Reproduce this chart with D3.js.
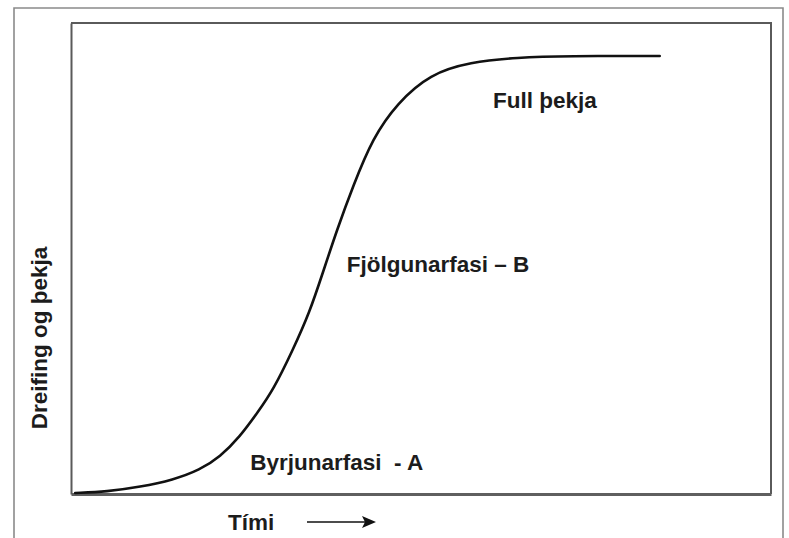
<!DOCTYPE html>
<html>
<head>
<meta charset="utf-8">
<script src="https://cdn.jsdelivr.net/npm/d3@7"></script>
<style>
  body { margin: 0; background: #fff; }
  svg text { font-family: "Liberation Sans", Arial, sans-serif; font-weight: bold; fill: #1c1c1c; }
</style>
</head>
<body>
<div id="chart"></div>
<script>
// svg size and plot box
let svgWidth = 789;
let svgHeight = 538;

let margin = { top: 23, right: 18, bottom: 44, left: 71 };
let width = svgWidth - margin.left - margin.right;
let height = svgHeight - margin.top - margin.bottom;

// growth curve (time 0-100, coverage 0-100)
let timeValues = [0.6, 5.1, 9.9, 14.6, 18.4, 21.3, 24.1, 26.7, 28.9, 31.7, 34.1, 36.0,
  38.0, 40.3, 43.1, 46.6, 51.3, 57.0, 63.7, 70.9, 84.1];
let coverValues = [0.2, 0.5, 1.5, 3.0, 5.1, 7.9, 12.1, 17.4, 22.1, 30.6, 38.6, 47.1,
  56.1, 65.4, 75.6, 83.0, 89.2, 91.7, 92.7, 93.0, 93.0];

// phase labels: [text, time, coverage]
let phaseNames = ["Full þekja", "Fjölgunarfasi – B", "Byrjunarfasi  - A"];
let phaseTime = [60.3, 39.4, 25.6];
let phaseCover = [82.0, 47.1, 5.1];

let xLabel = "Tími";
let yLabel = "Dreifing og þekja";

let svg = d3.select("#chart")
  .append("svg")
  .attr("width", svgWidth)
  .attr("height", svgHeight);

// outer frame (left, top, right edges)
svg.append("path")
  .attr("d", `M14,${svgHeight + 2} V8 H783 V${svgHeight + 2}`)
  .attr("fill", "none")
  .attr("stroke", "#8a8a8a")
  .attr("stroke-width", 1.6);

let chartGroup = svg.append("g")
  .attr("transform", `translate(${margin.left}, ${margin.top})`);

let xScale = d3.scaleLinear().domain([0, 100]).range([0, width]);
let yScale = d3.scaleLinear().domain([0, 100]).range([height, 0]);

// plot box: top and right edges
chartGroup.append("path")
  .attr("d", `M0,0 H${width} V${height}`)
  .attr("fill", "none")
  .attr("stroke", "#5a5a5a")
  .attr("stroke-width", 2);

// axes without ticks
let bottomAxis = chartGroup.append("g")
  .attr("transform", `translate(0, ${height})`)
  .call(d3.axisBottom(xScale).tickValues([]).tickSizeOuter(0));
let leftAxis = chartGroup.append("g")
  .call(d3.axisLeft(yScale).tickValues([]).tickSizeOuter(0));

bottomAxis.select(".domain").attr("stroke", "#5f5f5f").attr("stroke-width", 3);
leftAxis.select(".domain").attr("stroke", "#5a5a5a").attr("stroke-width", 2);

// the curve
let points = timeValues.map((t, i) => [t, coverValues[i]]);
let line = d3.line()
  .x(d => xScale(d[0]))
  .y(d => yScale(d[1]))
  .curve(d3.curveBasis);

chartGroup.append("path")
  .datum(points)
  .attr("d", line)
  .attr("fill", "none")
  .attr("stroke", "#111")
  .attr("stroke-width", 2.6)
  .attr("stroke-linecap", "round");

// phase labels
chartGroup.selectAll(".phase")
  .data(phaseNames)
  .enter()
  .append("text")
  .attr("class", "phase")
  .attr("x", (d, i) => xScale(phaseTime[i]))
  .attr("y", (d, i) => yScale(phaseCover[i]))
  .style("font-size", "22.5px")
  .style("white-space", "pre")
  .text(d => d);

// x label and arrow
svg.append("text")
  .attr("x", 228)
  .attr("y", 530)
  .style("font-size", "22.5px")
  .text(xLabel);

svg.append("line")
  .attr("x1", 307).attr("x2", 366)
  .attr("y1", 522).attr("y2", 522)
  .attr("stroke", "#111")
  .attr("stroke-width", 1.5);

svg.append("path")
  .attr("d", "M376,522 L362,516 L365,522 L362,528 Z")
  .attr("fill", "#111");

// y label
svg.append("text")
  .attr("transform", "translate(47, 338) rotate(-90)")
  .attr("text-anchor", "middle")
  .style("font-size", "22.5px")
  .text(yLabel);
</script>
</body>
</html>
